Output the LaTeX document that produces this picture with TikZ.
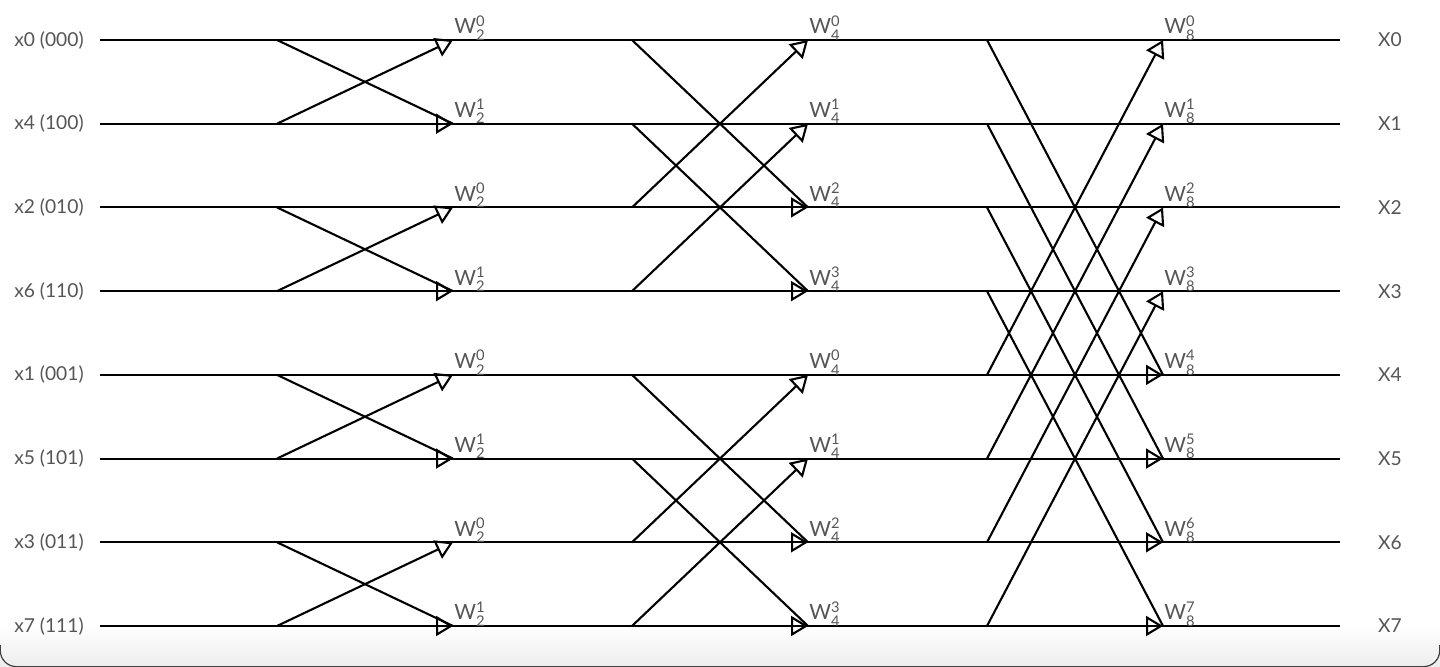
\documentclass[tikz,border=0pt]{standalone}
\usepackage{amsmath}
\usepackage{fontspec}
\setmainfont{Lato}
\usetikzlibrary{arrows.meta}
\definecolor{txt}{HTML}{555555}
\newcommand\Wt[2]{W\ensuremath{^{\text{#2}}_{\text{#1}}}}
\begin{document}
\begin{tikzpicture}[x=0.5pt,y=-0.5pt,
  wire/.style={line width=1.05pt},
  tw/.style={wire,-{Triangle[open,length=8.5pt,width=10pt]}},
  lab/.style={text=txt,font=\fontsize{9.6}{10}\selectfont,inner sep=0pt},
  wlab/.style={text=txt,font=\fontsize{10.5}{11}\selectfont,inner sep=0pt,anchor=base west,xshift=0.5pt,yshift=3pt}]
\useasboundingbox (0,0) rectangle (1440,667);
\shade[top color=white,bottom color=black!7] (0,625) rectangle (1440,666);
\draw[black!75,line width=0.6pt,rounded corners=8] (0.3,645) -- (0.3,666.6) -- (1439.7,666.6) -- (1439.7,645);
% coordinates
\foreach \i in {0,...,7}{
  \pgfmathsetmacro\y{40+83.714*\i}
  \coordinate (L\i) at (100,\y);
  \coordinate (R\i) at (1340,\y);
  \foreach \s/\a/\b in {1/277/453,2/632/808,3/987/1163}{
    \coordinate (A\s-\i) at (\a,\y);
    \coordinate (B\s-\i) at (\b,\y);
  }
  \node[lab] (out\i) at (1390,\y) {X\i};
}
% input labels
\foreach \i/\t in {0/x0 (000),1/x4 (100),2/x2 (010),3/x6 (110),4/x1 (001),5/x5 (101),6/x3 (011),7/x7 (111)}{
  \node[lab] (in\i) at (49,40+83.714*\i) {\t};
}
% wires
\foreach \i in {0,...,7}{
  \draw[wire] (L\i) -- (R\i);
}
% butterflies
\foreach \s/\t/\b in {1/0/1,1/2/3,1/4/5,1/6/7,2/0/2,2/1/3,2/4/6,2/5/7,3/0/4,3/1/5,3/2/6,3/3/7}{
  \draw[wire] (A\s-\t) -- (B\s-\b);
  \draw[tw] (A\s-\b) -- (B\s-\t);
  \draw[tw] (A\s-\b) -- (B\s-\b);
}
% twiddle labels
\foreach \i in {0,...,7}{
  \pgfmathtruncatemacro\ka{mod(\i,2)}
  \pgfmathtruncatemacro\kb{mod(\i,4)}
  \node[wlab] (wa\i) at (B1-\i) {\Wt{2}{\ka}};
  \node[wlab] (wb\i) at (B2-\i) {\Wt{4}{\kb}};
  \node[wlab] (wc\i) at (B3-\i) {\Wt{8}{\i}};
}
\end{tikzpicture}
\end{document}
